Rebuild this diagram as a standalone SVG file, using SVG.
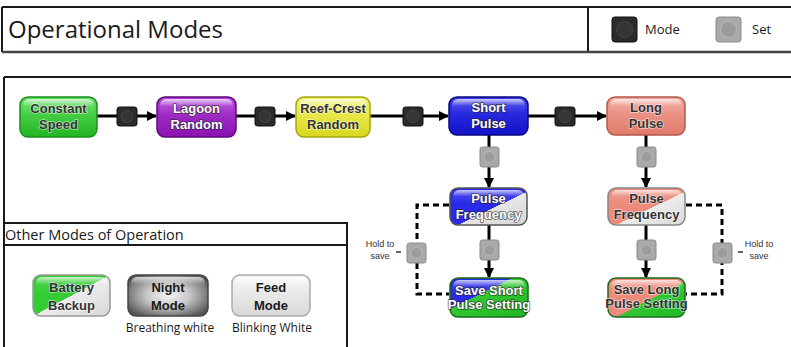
<svg xmlns="http://www.w3.org/2000/svg" width="791" height="347" viewBox="0 0 791 347">
<defs>
  <style>
    .frame{fill:none;stroke:#1a1a1a;stroke-width:2}
    .ttl{font-family:"Open Sans","Liberation Sans",sans-serif;fill:#1a1a1a}
    .lbl{font-family:"Liberation Sans","Open Sans",sans-serif;font-weight:bold;font-size:13px;text-anchor:middle}
    .dk{fill:#333;stroke:#fff;stroke-width:1.5;paint-order:stroke;stroke-opacity:0.6}
    .wt{fill:#fff;stroke:#222;stroke-width:1.6;paint-order:stroke;stroke-opacity:0.7}
    .small{font-family:"Liberation Sans","Open Sans",sans-serif;font-size:9px;fill:#333;text-anchor:middle}
    .note{font-family:"Open Sans","Liberation Sans",sans-serif;font-size:12px;fill:#1a1a1a;text-anchor:middle}
    .box{stroke-width:1.5}
    .gloss{fill:url(#gloss)}
    .line{stroke:#000;stroke-width:3;fill:none}
    .dash{stroke:#000;stroke-width:3;fill:none;stroke-dasharray:6 4}
    .modeb{fill:#2b2b2b;stroke:#111;stroke-width:1}
    .modec{fill:#353535;stroke:#444;stroke-width:1}
    .setb{fill:#a9a9a9;stroke:#8a8a8a;stroke-width:1}
    .setc{fill:#9c9c9c;stroke:#b8b8b8;stroke-width:1}
  </style>
  <linearGradient id="gloss" x1="0" y1="0" x2="0" y2="1">
    <stop offset="0" stop-color="#fff" stop-opacity="0.75"/>
    <stop offset="0.45" stop-color="#fff" stop-opacity="0.1"/>
    <stop offset="1" stop-color="#fff" stop-opacity="0"/>
  </linearGradient>
  <linearGradient id="green" x1="0" y1="0" x2="0" y2="1">
    <stop offset="0" stop-color="#5fe05f"/><stop offset="1" stop-color="#22b522"/>
  </linearGradient>
  <linearGradient id="purple" x1="0" y1="0" x2="0" y2="1">
    <stop offset="0" stop-color="#b040d8"/><stop offset="1" stop-color="#8a12b0"/>
  </linearGradient>
  <linearGradient id="yellow" x1="0" y1="0" x2="0" y2="1">
    <stop offset="0" stop-color="#f2f26a"/><stop offset="1" stop-color="#d8d820"/>
  </linearGradient>
  <linearGradient id="blue" x1="0" y1="0" x2="0" y2="1">
    <stop offset="0" stop-color="#3a3af0"/><stop offset="1" stop-color="#1212c8"/>
  </linearGradient>
  <linearGradient id="salmon" x1="0" y1="0" x2="0" y2="1">
    <stop offset="0" stop-color="#f2a497"/><stop offset="1" stop-color="#e07a6b"/>
  </linearGradient>
  <linearGradient id="white" x1="0" y1="0" x2="0" y2="1">
    <stop offset="0" stop-color="#f6f6f6"/><stop offset="1" stop-color="#d8d8d8"/>
  </linearGradient>
  <radialGradient id="night" cx="0.5" cy="0.5" r="0.6">
    <stop offset="0" stop-color="#f4f4f4"/><stop offset="0.45" stop-color="#c8c8c8"/><stop offset="1" stop-color="#555"/>
  </radialGradient>
  <linearGradient id="blueWhite" x1="0" y1="0" x2="1" y2="1">
    <stop offset="0" stop-color="#2a2ae8"/><stop offset="0.55" stop-color="#2a2ae8"/><stop offset="0.55" stop-color="#e6e6e6"/><stop offset="1" stop-color="#d6d6d6"/>
  </linearGradient>
  <linearGradient id="blueGreen" x1="0" y1="0" x2="1" y2="1">
    <stop offset="0" stop-color="#2a2ae8"/><stop offset="0.4" stop-color="#2a2ae8"/><stop offset="0.4" stop-color="#33c833"/><stop offset="1" stop-color="#22b522"/>
  </linearGradient>
  <linearGradient id="salmonWhite" x1="0" y1="0" x2="1" y2="1">
    <stop offset="0" stop-color="#ec8a7c"/><stop offset="0.55" stop-color="#ec8a7c"/><stop offset="0.55" stop-color="#ececec"/><stop offset="1" stop-color="#d8d8d8"/>
  </linearGradient>
  <linearGradient id="salmonGreen" x1="0" y1="0" x2="1" y2="1">
    <stop offset="0" stop-color="#ec8a7c"/><stop offset="0.55" stop-color="#ec8a7c"/><stop offset="0.55" stop-color="#33c833"/><stop offset="1" stop-color="#22b522"/>
  </linearGradient>
  <linearGradient id="greenWhite" x1="0" y1="0" x2="1" y2="1">
    <stop offset="0" stop-color="#33cc33"/><stop offset="0.5" stop-color="#33cc33"/><stop offset="0.5" stop-color="#ececec"/><stop offset="1" stop-color="#d8d8d8"/>
  </linearGradient>
  <marker id="arr" markerWidth="10" markerHeight="10" refX="9" refY="5" orient="auto" markerUnits="userSpaceOnUse">
    <path d="M0,0 L10,5 L0,10 Z" fill="#000"/>
  </marker>
</defs>

<rect width="791" height="347" fill="#fff"/>

<g id="header">
  <path class="frame" d="M2,7 H791 M2,7 V52 M588,7 V52"/>
  <path d="M2,52 H791" stroke="#444" stroke-width="2.5"/>
  <text class="ttl" x="8" y="38" font-size="24">Operational Modes</text>
  <g id="legend-mode">
    <rect x="612" y="17" width="25" height="25" rx="3" class="modeb"/>
    <circle cx="624.5" cy="29.5" r="8" class="modec"/>
    <text class="ttl" x="645" y="34" font-size="13">Mode</text>
  </g>
  <g id="legend-set">
    <rect x="716" y="17" width="25" height="25" rx="3" class="setb"/>
    <circle cx="728.5" cy="29.5" r="8" class="setc"/>
    <text class="ttl" x="752" y="34" font-size="13">Set</text>
  </g>
</g>

<g id="main-frame">
  <path class="frame" d="M4,77 H791 M4,77 V347"/>
</g>

<g id="other-modes-frame">
  <path class="frame" d="M3,223 H347 V347 M3,245 H347"/>
  <text class="ttl" x="5" y="240" font-size="14.5">Other Modes of Operation</text>
</g>

<g id="connectors">
  <line class="line" x1="97" y1="116" x2="156" y2="116" marker-end="url(#arr)"/>
  <line class="line" x1="236" y1="116" x2="295" y2="116" marker-end="url(#arr)"/>
  <line class="line" x1="370" y1="116" x2="448" y2="116" marker-end="url(#arr)"/>
  <line class="line" x1="528" y1="116" x2="606" y2="116" marker-end="url(#arr)"/>
  <line class="line" x1="489" y1="135" x2="489" y2="187" marker-end="url(#arr)"/>
  <line class="line" x1="646" y1="135" x2="646" y2="187" marker-end="url(#arr)"/>
  <line class="line" x1="489" y1="225" x2="489" y2="277" marker-end="url(#arr)"/>
  <line class="line" x1="646" y1="225" x2="646" y2="277" marker-end="url(#arr)"/>
  <path class="dash" d="M449,205 H417 V294 H449"/>
  <path class="dash" d="M686,205 H722 V294 H686"/>
  <path d="M396,252 H401 M738,252 H743" stroke="#333" stroke-width="1.5"/>
</g>

<g id="buttons">
  <g id="mode1"><rect x="117" y="107" width="20" height="19" rx="2.5" class="modeb"/><circle cx="127" cy="116.5" r="6" class="modec"/></g>
  <g id="mode2"><rect x="255" y="107" width="20" height="19" rx="2.5" class="modeb"/><circle cx="265" cy="116.5" r="6" class="modec"/></g>
  <g id="mode3"><rect x="403" y="107" width="20" height="19" rx="2.5" class="modeb"/><circle cx="413" cy="116.5" r="6" class="modec"/></g>
  <g id="mode4"><rect x="555" y="107" width="20" height="19" rx="2.5" class="modeb"/><circle cx="565" cy="116.5" r="6" class="modec"/></g>
  <g id="set1"><rect x="480" y="147" width="19" height="20" rx="2.5" class="setb"/><circle cx="489.5" cy="157" r="5.5" class="setc"/></g>
  <g id="set2"><rect x="637" y="147" width="19" height="20" rx="2.5" class="setb"/><circle cx="646.5" cy="157" r="5.5" class="setc"/></g>
  <g id="set3"><rect x="480" y="240" width="19" height="20" rx="2.5" class="setb"/><circle cx="489.5" cy="250" r="5.5" class="setc"/></g>
  <g id="set4"><rect x="637" y="240" width="19" height="20" rx="2.5" class="setb"/><circle cx="646.5" cy="250" r="5.5" class="setc"/></g>
  <g id="set5"><rect x="407" y="243" width="19" height="20" rx="2.5" class="setb"/><circle cx="416.5" cy="253" r="5.5" class="setc"/></g>
  <g id="set6"><rect x="713" y="243" width="19" height="20" rx="2.5" class="setb"/><circle cx="722.5" cy="253" r="5.5" class="setc"/></g>
</g>

<g id="hold-left">
  <text class="small" x="380" y="247">Hold to</text>
  <text class="small" x="380" y="259">save</text>
</g>
<g id="hold-right">
  <text class="small" x="759" y="247">Hold to</text>
  <text class="small" x="759" y="259">save</text>
</g>

<g id="constant-speed">
  <rect x="20" y="97" width="77" height="40" rx="8" fill="url(#green)" stroke="#1d8f1d" class="box"/>
  <rect x="23" y="99" width="71" height="16" rx="6" class="gloss"/>
  <text class="lbl dk" x="58.5" y="113">Constant</text>
  <text class="lbl dk" x="58.5" y="129">Speed</text>
</g>
<g id="lagoon-random">
  <rect x="157" y="97" width="79" height="40" rx="8" fill="url(#purple)" stroke="#5e0a7a" class="box"/>
  <rect x="160" y="99" width="73" height="16" rx="6" class="gloss"/>
  <text class="lbl wt" x="196.5" y="113">Lagoon</text>
  <text class="lbl wt" x="196.5" y="129">Random</text>
</g>
<g id="reef-crest-random">
  <rect x="296" y="97" width="74" height="40" rx="8" fill="url(#yellow)" stroke="#a6a610" class="box"/>
  <rect x="299" y="99" width="68" height="16" rx="6" class="gloss"/>
  <text class="lbl dk" x="333" y="113">Reef-Crest</text>
  <text class="lbl dk" x="333" y="129">Random</text>
</g>
<g id="short-pulse">
  <rect x="449" y="97" width="79" height="38" rx="8" fill="url(#blue)" stroke="#0a0a80" class="box"/>
  <rect x="452" y="99" width="73" height="15" rx="6" class="gloss"/>
  <text class="lbl wt" x="488.5" y="112">Short</text>
  <text class="lbl wt" x="488.5" y="128">Pulse</text>
</g>
<g id="long-pulse">
  <rect x="607" y="97" width="78" height="38" rx="8" fill="url(#salmon)" stroke="#b35a4e" class="box"/>
  <rect x="610" y="99" width="72" height="15" rx="6" class="gloss"/>
  <text class="lbl dk" x="646" y="112">Long</text>
  <text class="lbl dk" x="646" y="128">Pulse</text>
</g>
<g id="pulse-frequency-short">
  <rect x="450" y="188" width="77" height="37" rx="8" fill="url(#blueWhite)" stroke="#555" class="box"/>
  <rect x="453" y="190" width="71" height="14" rx="6" class="gloss"/>
  <text class="lbl wt" x="488.5" y="203">Pulse</text>
  <text class="lbl wt" x="488.5" y="219">Frequency</text>
</g>
<g id="pulse-frequency-long">
  <rect x="608" y="188" width="77" height="37" rx="8" fill="url(#salmonWhite)" stroke="#888" class="box"/>
  <rect x="611" y="190" width="71" height="14" rx="6" class="gloss"/>
  <text class="lbl dk" x="646.5" y="203">Pulse</text>
  <text class="lbl dk" x="646.5" y="219">Frequency</text>
</g>
<g id="save-short">
  <rect x="450" y="278" width="78" height="39" rx="8" fill="url(#blueGreen)" stroke="#1a6a1a" class="box"/>
  <rect x="453" y="280" width="72" height="15" rx="6" class="gloss"/>
  <text class="lbl wt" x="489" y="295" font-size="11.5px">Save Short</text>
  <text class="lbl wt" x="489" y="309" font-size="11.5px">Pulse Setting</text>
</g>
<g id="save-long">
  <rect x="608" y="278" width="77" height="39" rx="8" fill="url(#salmonGreen)" stroke="#1a6a1a" class="box"/>
  <rect x="611" y="280" width="71" height="15" rx="6" class="gloss"/>
  <text class="lbl dk" x="646.5" y="294" font-size="11.5px">Save Long</text>
  <text class="lbl dk" x="646.5" y="308" font-size="11.5px">Pulse Setting</text>
</g>

<g id="battery-backup">
  <rect x="33" y="275" width="77" height="41" rx="8" fill="url(#greenWhite)" stroke="#999" class="box"/>
  <rect x="36" y="277" width="71" height="16" rx="6" class="gloss"/>
  <text class="lbl dk" x="71.5" y="292" font-size="15px">Battery</text>
  <text class="lbl dk" x="71.5" y="310" font-size="15px">Backup</text>
</g>
<g id="night-mode">
  <rect x="128" y="275" width="80" height="41" rx="8" fill="url(#night)" stroke="#444" class="box"/>
  <rect x="131" y="277" width="74" height="16" rx="6" class="gloss"/>
  <text class="lbl" x="168" y="292" font-size="15px" fill="#1a1a1a">Night</text>
  <text class="lbl" x="168" y="310" font-size="15px" fill="#1a1a1a">Mode</text>
  <text class="note" x="170" y="332">Breathing white</text>
</g>
<g id="feed-mode">
  <rect x="232" y="275" width="78" height="41" rx="8" fill="url(#white)" stroke="#aaa" class="box"/>
  <rect x="235" y="277" width="72" height="16" rx="6" class="gloss"/>
  <text class="lbl" x="271" y="292" font-size="15px" fill="#1a1a1a">Feed</text>
  <text class="lbl" x="271" y="310" font-size="15px" fill="#1a1a1a">Mode</text>
  <text class="note" x="272" y="332">Blinking White</text>
</g>
</svg>
